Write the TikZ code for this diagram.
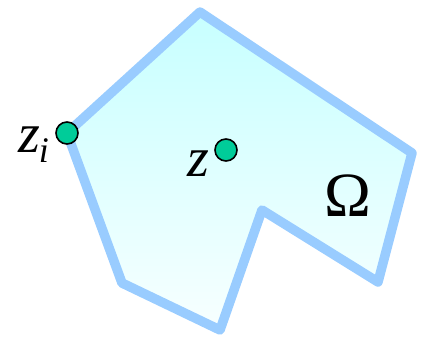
\documentclass[tikz,border=0pt]{standalone}
\usepackage{fontspec}
\setmainfont{Liberation Serif}
\definecolor{edgeblue}{HTML}{99CCFF}
\definecolor{dotgreen}{HTML}{00CC99}
\tikzset{
  region/.style={draw=edgeblue, line width=9.5pt, line join=round, top color=cyan!22, bottom color=cyan!3},
  pt/.style={circle, draw=black, line width=1.6pt, fill=dotgreen, minimum size=22pt, inner sep=0pt},
  lbl/.style={inner sep=0pt}
}
\begin{document}
\begin{tikzpicture}[x=1pt,y=-1pt]
\useasboundingbox (0,0) rectangle (425,341);
\path[region] (67,133) -- (200,12) -- (412,153) -- (378,282) -- (262,210) -- (220,330) -- (122,283) -- cycle;
\node[pt] (zi) at (67,133) {};
\node[pt] (z) at (226,150) {};
\node[lbl, anchor=base west, font=\fontsize{56}{56}\selectfont] (lzi) at (18,152) {\textit{z}\kern-1pt\raisebox{-10pt}{\fontsize{36}{36}\selectfont\textit{i}}};
\node[lbl, anchor=base, font=\fontsize{56}{56}\selectfont] (lz) at (198,176) {\textit{z}};
\node[lbl, font=\fontsize{63}{63}\selectfont, anchor=base] (om) at (348,216) {Ω};
\end{tikzpicture}
\end{document}
